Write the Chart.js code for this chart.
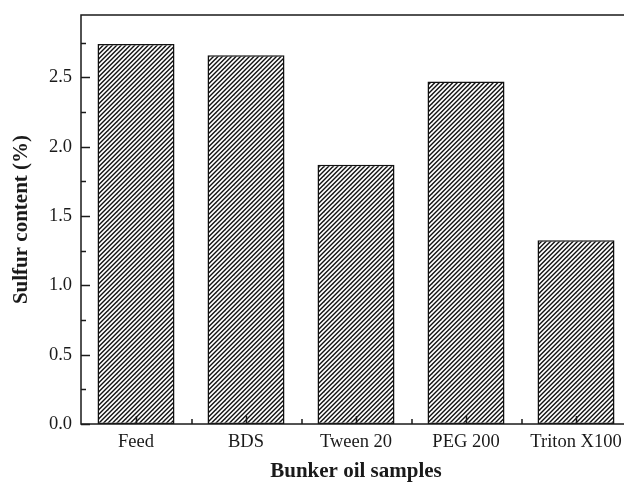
<!DOCTYPE html>
<html>
<head>
<meta charset="utf-8">
<script src="https://cdn.jsdelivr.net/npm/chart.js@4.4.1/dist/chart.umd.min.js"></script>
<style>
  html, body { margin: 0; padding: 0; background: #fff; overflow: hidden; }
  #wrap { width: 660px; height: 484px; }
</style>
</head>
<body>
<div id="wrap"><canvas id="chart" width="660" height="484"></canvas></div>
<script>
// data
const categories = ['Feed', 'BDS', 'Tween 20', 'PEG 200', 'Triton X100'];
const sulfur = [2.74, 2.66, 1.87, 2.47, 1.325];
const yMax = 2.95;

const ink = '#1a1a1a';

// diagonal hatch fill "////"
function makeHatch() {
    const c = document.createElement('canvas');
    c.width = 9; c.height = 9;
    const g = c.getContext('2d');
    g.fillStyle = '#fff';
    g.fillRect(0, 0, 9, 9);
    g.strokeStyle = '#111';
    g.lineWidth = 1.4;
    [-4.5, 0, 4.5, 9, 13.5, 18].forEach(k => {
        g.beginPath();
        g.moveTo(k - 10, 10);
        g.lineTo(k + 1, -1);
        g.stroke();
    });
    return g.createPattern(c, 'repeat');
}

// frame + inward ticks, drawn on top of the bars
const framePlugin = {
    id: 'frame',
    afterDatasetsDraw(chart) {
        const { ctx, chartArea: a, scales: { x, y } } = chart;
        ctx.save();
        ctx.strokeStyle = ink;
        ctx.lineWidth = 1.5;
        ctx.strokeRect(a.left, a.top, a.right - a.left, a.bottom - a.top);

        // y ticks: major every 0.5, minor halfway
        for (let v = 0; v <= yMax + 1e-9; v += 0.25) {
            const py = Math.round(y.getPixelForValue(v)) + 0.5;
            const major = Math.abs(v / 0.5 - Math.round(v / 0.5)) < 1e-6;
            ctx.beginPath();
            ctx.moveTo(a.left, py);
            ctx.lineTo(a.left + (major ? 9 : 5), py);
            ctx.stroke();
        }
        // x ticks: major at categories, minor at boundaries
        const step = x.getPixelForValue(1) - x.getPixelForValue(0);
        categories.forEach((c, i) => {
            const px = Math.round(x.getPixelForValue(i)) + 0.5;
            ctx.beginPath();
            ctx.moveTo(px, a.bottom);
            ctx.lineTo(px, a.bottom - 8);
            ctx.stroke();
            const bx = Math.round(px + step / 2);
            ctx.beginPath();
            ctx.moveTo(bx, a.bottom);
            ctx.lineTo(bx, a.bottom - 5);
            ctx.stroke();
        });
        ctx.restore();
    }
};

const ctx = document.getElementById('chart').getContext('2d');
new Chart(ctx, {
    type: 'bar',
    data: {
        labels: categories,
        datasets: [{
            label: 'Sulfur content',
            data: sulfur,
            backgroundColor: makeHatch(),
            borderColor: '#111',
            borderWidth: 1.5,
            borderSkipped: false,
            categoryPercentage: 1,
            barPercentage: 0.7
        }]
    },
    options: {
        responsive: false,
        animation: false,
        layout: { padding: { top: 15, right: 29, left: 0, bottom: 0 } },
        plugins: {
            legend: { display: false },
            tooltip: { enabled: false }
        },
        scales: {
            x: {
                offset: true,
                grid: { display: false, drawTicks: false },
                border: { display: false },
                ticks: {
                    padding: 7,
                    color: ink,
                    maxRotation: 0,
                    font: { family: 'Liberation Serif', size: 18.5 }
                },
                title: {
                    display: true,
                    text: 'Bunker oil samples',
                    color: ink,
                    padding: { top: 0, bottom: 0 },
                    font: { family: 'Liberation Serif', size: 21, weight: 'bold' }
                },
                afterFit(scale) { scale.height = 60; scale.paddingLeft = 0; scale.paddingRight = 0; }
            },
            y: {
                min: 0,
                max: yMax,
                grid: { display: false, drawTicks: false },
                border: { display: false },
                ticks: {
                    stepSize: 0.5,
                    padding: 9,
                    color: ink,
                    font: { family: 'Liberation Serif', size: 18.5 },
                    callback: v => v.toFixed(1)
                },
                afterBuildTicks(scale) {
                    // keep only the 0.5 steps, drop the 2.95 end value
                    scale.ticks = scale.ticks.filter(t => Math.abs(t.value * 2 - Math.round(t.value * 2)) < 1e-6);
                },
                title: {
                    display: true,
                    text: 'Sulfur content (%)',
                    color: ink,
                    padding: { top: 9, bottom: 0 },
                    font: { family: 'Liberation Serif', size: 21, weight: 'bold' }
                },
                afterFit(scale) { scale.width = 81; scale.paddingTop = 0; scale.paddingBottom = 0; }
            }
        }
    },
    plugins: [framePlugin]
});
</script>
</body>
</html>
